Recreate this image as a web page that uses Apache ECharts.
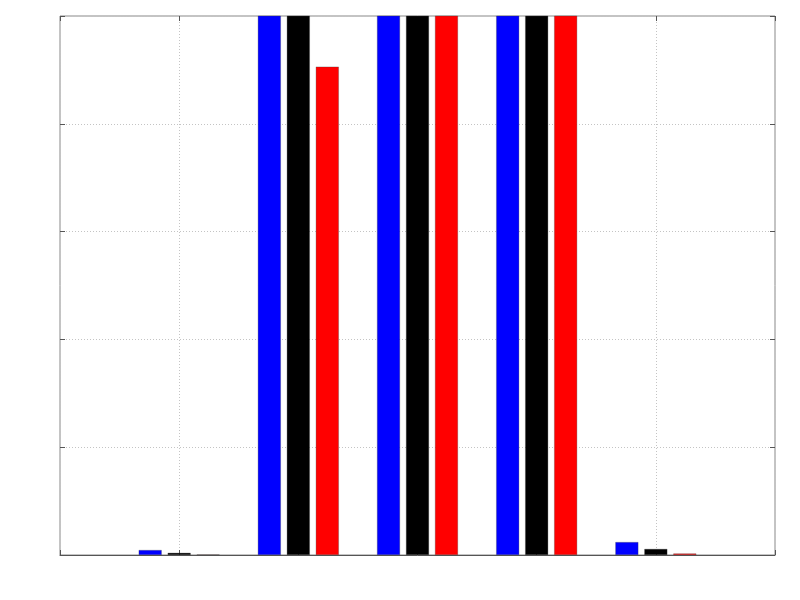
<!DOCTYPE html>
<html>
<head>
<meta charset="utf-8">
<script src="https://cdn.jsdelivr.net/npm/echarts@6/dist/echarts.min.js"></script>
<style>
    html, body { margin: 0; padding: 0; background: #fff; }
    #main { width: 800px; height: 600px; }
</style>
</head>
<body>
<div id="main"></div>
<script>
// 分组（两端空位用来留出 0 和 6 的边距）
var categories = ['', '1', '2', '3', '4', '5', ''];
// 超出 y 轴上限的柱子会被裁剪
var blueValues  = [null, 0.046, 6, 6, 6, 0.12, null];
var blackValues = [null, 0.02, 6, 6, 6, 0.056, null];
var redValues   = [null, 0.005, 4.53, 6, 6, 0.014, null];
var yMin = 0, yMax = 5, yStep = 1;

var chart = echarts.init(document.getElementById('main'));

// 每个轴单独一份，避免对象被合并时共用
var tickStyle = function(){
    return { show: true, inside: true, length: 5, lineStyle: { color: '#555' } };
};
var gridStyle = function(){
    return { show: true, lineStyle: { color: '#c4c4c4', type: [1, 2], width: 1 } };
};

var makeBar = function(name, data, color){
    return {
        name: name,
        type: 'bar',
        data: data,
        barWidth: 23,
        barGap: '26%',
        clip: true,
        itemStyle: { color: color, borderColor: 'rgba(60,60,60,0.6)', borderWidth: 0.5 }
    };
};

var option = {
    animation: false,
    backgroundColor: '#fff',
    grid: {
        left: 60, right: 25, top: 16, bottom: 45,
        show: true, borderColor: '#888', borderWidth: 1
    },
    xAxis: [
        {
            type: 'category', data: categories, boundaryGap: false, position: 'bottom',
            axisLine: { show: true, onZero: false, lineStyle: { color: '#555' } },
            axisTick: tickStyle(), axisLabel: { show: false }, splitLine: gridStyle()
        },
        {
            type: 'category', data: categories, boundaryGap: false, position: 'top',
            axisLine: { show: false, onZero: false }, axisTick: tickStyle(), axisLabel: { show: false },
            splitLine: { show: false }
        }
    ],
    yAxis: [
        {
            type: 'value', min: yMin, max: yMax, interval: yStep, position: 'left',
            axisLine: { show: false, onZero: false }, axisTick: tickStyle(), axisLabel: { show: false },
            splitLine: gridStyle()
        },
        {
            type: 'value', min: yMin, max: yMax, interval: yStep, position: 'right',
            axisLine: { show: false, onZero: false }, axisTick: tickStyle(), axisLabel: { show: false },
            splitLine: { show: false }
        }
    ],
    series: [
        makeBar('blue', blueValues, '#0000ff'),
        makeBar('black', blackValues, '#000000'),
        makeBar('red', redValues, '#ff0000')
    ]
};

chart.setOption(option);
</script>
</body>
</html>
